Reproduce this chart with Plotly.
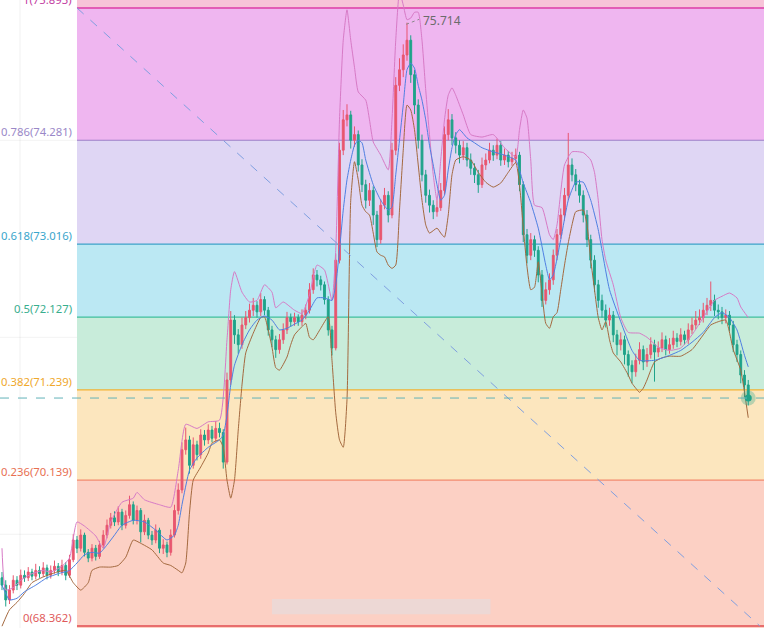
import plotly.graph_objects as go

# ---------------- data ----------------
fib_ratios = [1, 0.786, 0.618, 0.5, 0.382, 0.236, 0]
fib_prices = [75.893, 74.281, 73.016, 72.127, 71.239, 70.139, 68.362]

opens = [
68.95, 68.86, 68.68, 68.80, 68.92, 68.86, 68.98, 68.95, 69.02, 68.97,
69.04, 69.00, 69.07, 68.98, 69.04, 69.09, 69.02, 69.10, 68.98, 69.17,
69.41, 69.31, 69.47, 69.26, 69.19, 69.31, 69.21, 69.35, 69.47, 69.59,
69.68, 69.63, 69.75, 69.59, 69.71, 69.84, 69.65, 69.77, 69.51, 69.65,
69.47, 69.41, 69.53, 69.31, 69.35, 69.26, 69.47, 69.77, 70.02, 70.51,
70.63, 70.32, 70.57, 70.45, 70.69, 70.63, 70.75, 70.65, 70.77, 70.72,
70.36, 71.36, 72.09, 71.91, 71.79, 72.03, 72.12, 72.21, 72.27, 72.19,
72.34, 72.21, 71.97, 71.85, 71.73, 71.85, 71.97, 72.12, 72.07, 72.12,
72.07, 72.15, 72.21, 72.46, 72.64, 72.58, 72.52, 72.34, 71.97, 71.75,
72.82, 74.16, 74.53, 74.59, 74.28, 74.35, 73.98, 73.74, 73.55, 73.67,
73.37, 73.07, 73.49, 73.61, 73.37, 74.16, 74.95, 75.14, 75.32, 75.50,
75.08, 74.71, 74.28, 73.86, 73.61, 73.49, 73.41, 73.46, 73.67, 74.35,
74.53, 74.31, 74.22, 74.10, 74.19, 74.04, 73.94, 73.86, 73.74, 73.98,
74.04, 74.16, 74.10, 74.22, 74.04, 74.10, 74.02, 74.06, 74.10, 73.74,
73.13, 72.88, 73.07, 72.94, 72.64, 72.33, 72.46, 72.58, 72.88, 73.13,
73.37, 73.61, 73.98, 73.86, 73.74, 73.61, 73.37, 73.07, 72.82, 72.52,
72.33, 72.21, 72.09, 72.15, 71.91, 71.79, 71.85, 71.67, 71.54, 71.46,
71.60, 71.73, 71.58, 71.67, 71.79, 71.70, 71.75, 71.85, 71.73, 71.79,
71.87, 71.83, 71.91, 71.85, 71.97, 72.03, 72.09, 72.12, 72.21, 72.27,
72.33, 72.21, 72.19, 72.12, 72.15, 72.03, 71.79, 71.67, 71.42, 71.30,
]
closes = [
68.86, 68.68, 68.80, 68.92, 68.86, 68.98, 68.95, 69.02, 68.97, 69.04,
69.00, 69.07, 68.98, 69.04, 69.09, 69.02, 69.10, 68.98, 69.17, 69.41,
69.31, 69.47, 69.26, 69.19, 69.31, 69.21, 69.35, 69.47, 69.59, 69.68,
69.63, 69.75, 69.59, 69.71, 69.84, 69.65, 69.77, 69.51, 69.65, 69.47,
69.41, 69.53, 69.31, 69.35, 69.26, 69.47, 69.77, 70.02, 70.51, 70.63,
70.32, 70.57, 70.45, 70.69, 70.63, 70.75, 70.65, 70.77, 70.72, 70.36,
71.36, 72.09, 71.91, 71.79, 72.03, 72.12, 72.21, 72.27, 72.19, 72.34,
72.21, 71.97, 71.85, 71.73, 71.85, 71.97, 72.12, 72.07, 72.12, 72.07,
72.15, 72.21, 72.46, 72.64, 72.58, 72.52, 72.34, 71.97, 71.75, 72.82,
74.16, 74.53, 74.59, 74.28, 74.35, 73.98, 73.74, 73.55, 73.67, 73.37,
73.07, 73.49, 73.61, 73.37, 74.16, 74.95, 75.14, 75.32, 75.50, 75.08,
74.71, 74.28, 73.86, 73.61, 73.49, 73.41, 73.46, 73.67, 74.35, 74.53,
74.31, 74.22, 74.10, 74.19, 74.04, 73.94, 73.86, 73.74, 73.98, 74.04,
74.16, 74.10, 74.22, 74.04, 74.10, 74.02, 74.06, 74.10, 73.74, 73.13,
72.88, 73.07, 72.94, 72.64, 72.33, 72.46, 72.58, 72.88, 73.13, 73.37,
73.61, 73.98, 73.86, 73.74, 73.61, 73.37, 73.07, 72.82, 72.52, 72.33,
72.21, 72.09, 72.15, 71.91, 71.79, 71.85, 71.67, 71.54, 71.46, 71.60,
71.73, 71.58, 71.67, 71.79, 71.70, 71.75, 71.85, 71.73, 71.79, 71.87,
71.83, 71.91, 71.85, 71.97, 72.03, 72.09, 72.12, 72.21, 72.27, 72.33,
72.21, 72.19, 72.12, 72.15, 72.03, 71.79, 71.67, 71.42, 71.30, 71.14,
]
highs = [
69.02, 68.92, 68.86, 68.98, 68.97, 69.05, 69.04, 69.08, 69.06, 69.12,
69.09, 69.14, 69.11, 69.10, 69.16, 69.13, 69.17, 69.14, 69.23, 69.48,
69.46, 69.54, 69.50, 69.30, 69.36, 69.35, 69.40, 69.53, 69.66, 69.74,
69.76, 69.82, 69.79, 69.77, 69.95, 69.88, 69.83, 69.80, 69.72, 69.68,
69.52, 69.60, 69.56, 69.42, 69.39, 69.54, 69.84, 70.10, 70.60, 70.78,
70.68, 70.66, 70.62, 70.76, 70.75, 70.82, 70.80, 70.86, 70.84, 70.76,
71.45, 72.20, 72.15, 71.98, 72.12, 72.20, 72.29, 72.36, 72.32, 72.42,
72.38, 72.25, 72.02, 71.90, 71.92, 72.05, 72.19, 72.17, 72.18, 72.16,
72.22, 72.28, 72.54, 72.72, 72.70, 72.63, 72.56, 72.38, 72.02, 72.90,
74.25, 74.65, 74.72, 74.64, 74.45, 74.40, 74.05, 73.80, 73.76, 73.72,
73.42, 73.56, 73.70, 73.66, 74.25, 75.05, 75.28, 75.45, 75.714, 75.56,
75.14, 74.78, 74.35, 73.92, 73.68, 73.55, 73.55, 73.76, 74.45, 74.66,
74.60, 74.38, 74.28, 74.27, 74.25, 74.12, 74.00, 73.92, 74.07, 74.12,
74.25, 74.22, 74.30, 74.27, 74.18, 74.15, 74.14, 74.18, 74.14, 73.78,
73.20, 73.15, 73.12, 72.99, 72.70, 72.55, 72.66, 72.95, 73.20, 73.45,
73.70, 74.37, 74.06, 73.93, 73.80, 73.67, 73.43, 73.13, 72.88, 72.58,
72.40, 72.28, 72.24, 72.20, 71.97, 71.94, 71.90, 71.72, 71.60, 71.68,
71.82, 71.78, 71.75, 71.88, 71.85, 71.83, 71.94, 71.90, 71.87, 71.96,
71.93, 71.99, 71.96, 72.05, 72.12, 72.20, 72.22, 72.30, 72.36, 72.56,
72.40, 72.28, 72.25, 72.22, 72.20, 72.08, 71.85, 71.72, 71.48, 71.36,
]
lows = [
68.80, 68.60, 68.63, 68.76, 68.80, 68.82, 68.90, 68.91, 68.92, 68.93,
68.95, 68.96, 68.93, 68.94, 69.00, 68.97, 68.98, 68.92, 68.95, 69.14,
69.25, 69.27, 69.21, 69.14, 69.15, 69.16, 69.18, 69.31, 69.43, 69.55,
69.58, 69.59, 69.53, 69.55, 69.67, 69.60, 69.60, 69.38, 69.47, 69.42,
69.35, 69.37, 69.25, 69.24, 69.20, 69.22, 69.44, 69.72, 69.98, 70.45,
70.22, 70.28, 70.38, 70.40, 70.56, 70.58, 70.60, 70.61, 70.66, 70.28,
70.33, 71.30, 71.80, 71.68, 71.74, 71.98, 72.06, 72.14, 72.12, 72.14,
72.15, 71.90, 71.76, 71.63, 71.68, 71.80, 71.92, 72.01, 72.02, 72.02,
72.02, 72.10, 72.17, 72.41, 72.50, 72.45, 72.28, 71.90, 71.66, 71.72,
72.78, 74.10, 74.45, 74.18, 74.20, 73.90, 73.65, 73.45, 73.48, 73.25,
72.98, 73.02, 73.44, 73.28, 73.33, 74.10, 74.88, 75.05, 75.25, 74.98,
74.60, 74.18, 73.78, 73.52, 73.40, 73.32, 73.35, 73.42, 73.62, 74.28,
74.22, 74.12, 74.00, 74.04, 73.96, 73.86, 73.76, 73.64, 73.70, 73.92,
74.00, 74.03, 74.05, 73.97, 73.98, 73.95, 73.97, 74.00, 73.66, 73.04,
72.78, 72.82, 72.86, 72.55, 72.25, 72.28, 72.40, 72.52, 72.82, 73.08,
73.30, 73.55, 73.78, 73.66, 73.52, 73.28, 72.98, 72.72, 72.43, 72.24,
72.12, 72.00, 72.02, 71.82, 71.66, 71.72, 71.55, 71.40, 71.32, 71.40,
71.55, 71.48, 71.52, 71.62, 71.34, 71.64, 71.70, 71.66, 71.68, 71.74,
71.76, 71.78, 71.79, 71.80, 71.92, 71.98, 72.03, 72.06, 72.15, 72.20,
72.14, 72.10, 72.04, 72.05, 71.95, 71.70, 71.58, 71.32, 71.15, 71.05,
]

upper_idx = [0, 1, 3, 5, 8, 11, 13, 16, 18, 20, 22, 25, 27, 29, 32, 35, 36, 38, 42, 45,
             47, 49, 52, 55, 58, 60, 61, 62, 64, 66, 68, 70, 72, 73, 75, 78, 80, 82, 84, 86,
             88, 89, 90, 91, 92, 93, 94, 95, 97, 98, 99, 101, 103, 104, 105, 106, 107, 108, 109, 110,
             111, 112, 113, 114, 115, 116, 117, 118, 119, 120, 121, 123, 125, 128, 131, 134, 137, 138, 139, 140,
             141, 142, 144, 146, 147, 148, 150, 152, 155, 157, 158, 159, 160, 161, 163, 165, 167, 170, 172, 175,
             178, 181, 184, 187, 190, 192, 194, 196, 197, 199]
upper_val = [69.31, 68.80, 68.83, 68.92, 69.00, 69.04, 69.02, 69.09, 69.19, 69.63, 69.58, 69.46, 69.31, 69.63, 69.87, 69.92, 69.99, 69.90, 69.84, 69.81,
             70.26, 70.82, 70.77, 70.85, 70.87, 71.85, 72.46, 72.68, 72.43, 72.31, 72.33, 72.52, 72.43, 72.24, 72.31, 72.21, 72.17, 72.40, 72.76, 72.70,
             72.33, 72.94, 74.53, 75.50, 75.87, 75.50, 75.17, 74.87, 74.77, 74.53, 74.26, 74.10, 73.92, 74.53, 75.50, 76.09, 75.93, 75.75, 75.77, 75.84,
             75.84, 75.50, 74.89, 74.35, 73.86, 73.55, 74.04, 74.53, 74.83, 74.92, 74.83, 74.59, 74.35, 74.32, 74.35, 74.19, 74.08, 74.41, 74.65, 74.55,
             74.04, 73.49, 73.46, 73.13, 73.07, 73.25, 73.98, 74.14, 74.13, 74.04, 73.89, 73.55, 73.07, 72.82, 72.52, 72.12, 71.94, 71.93, 71.88, 71.76,
             71.72, 71.75, 71.91, 72.12, 72.33, 72.38, 72.42, 72.36, 72.25, 72.12]

lower_idx = [0, 2, 4, 6, 8, 11, 14, 17, 19, 21, 23, 24, 26, 29, 31, 33, 35, 37, 40, 43,
             45, 47, 48, 49, 50, 51, 53, 55, 56, 58, 59, 60, 61, 62, 63, 64, 65, 67, 69, 70,
             71, 72, 73, 74, 76, 77, 78, 80, 81, 82, 83, 85, 87, 88, 89, 90, 91, 92, 93, 94,
             95, 96, 97, 98, 99, 100, 101, 102, 103, 104, 105, 106, 107, 108, 109, 110, 111, 112, 113, 114,
             116, 117, 118, 119, 120, 121, 123, 125, 127, 129, 131, 133, 135, 137, 138, 139, 140, 141, 142, 143,
             144, 145, 146, 147, 148, 149, 150, 151, 152, 153, 155, 156, 157, 158, 159, 160, 161, 162, 163, 165,
             167, 168, 169, 170, 171, 172, 173, 174, 176, 178, 181, 184, 187, 189, 191, 193, 195, 197, 198, 199]
lower_val = [68.36, 68.56, 68.65, 68.76, 68.89, 68.96, 69.01, 69.04, 68.89, 68.80, 68.89, 69.04, 69.08, 69.08, 69.10, 69.20, 69.41, 69.37, 69.29, 69.13,
             69.10, 69.04, 69.01, 69.13, 69.74, 70.14, 70.30, 70.47, 70.59, 70.63, 70.54, 70.14, 69.92, 70.14, 70.75, 71.30, 71.69, 71.93, 72.12, 72.13,
             71.97, 71.76, 71.51, 71.48, 71.64, 71.79, 71.91, 72.01, 72.05, 71.88, 71.85, 71.99, 72.13, 71.60, 70.96, 70.63, 70.54, 71.12, 73.55, 74.02,
             73.80, 73.49, 73.41, 73.37, 73.15, 72.92, 72.88, 72.86, 72.76, 72.72, 72.76, 73.43, 74.16, 74.71, 74.65, 74.41, 73.98, 73.55, 73.25, 73.15,
             73.21, 73.15, 73.10, 73.37, 73.86, 74.04, 74.08, 74.04, 73.89, 73.77, 73.71, 73.76, 73.89, 74.01, 73.74, 73.22, 72.74, 72.46, 72.49, 72.80,
             72.42, 72.05, 71.99, 72.13, 72.18, 72.46, 72.76, 73.03, 73.25, 73.41, 73.43, 73.25, 72.82, 72.46, 72.12, 71.97, 72.07, 71.85, 71.69, 71.58,
             71.42, 71.32, 71.26, 71.21, 71.26, 71.36, 71.48, 71.58, 71.63, 71.65, 71.65, 71.73, 71.91, 72.03, 72.07, 72.09, 71.73, 71.48, 71.21, 70.90]

mid_idx = [0, 2, 4, 6, 9, 12, 15, 18, 20, 22, 24, 26, 28, 30, 32, 35, 38, 41, 44, 46,
           47, 48, 50, 52, 55, 58, 59, 60, 61, 62, 64, 66, 68, 70, 72, 74, 76, 78, 80, 82,
           84, 86, 88, 89, 90, 91, 92, 93, 94, 95, 96, 97, 99, 101, 103, 104, 105, 106, 107, 108,
           109, 110, 111, 112, 113, 114, 115, 116, 117, 118, 119, 120, 121, 122, 124, 126, 128, 131, 134, 137,
           138, 139, 141, 143, 145, 146, 147, 149, 151, 153, 155, 157, 159, 160, 162, 165, 168, 170, 174, 178,
           181, 184, 187, 190, 192, 194, 196, 198, 199]
mid_val = [68.86, 68.68, 68.70, 68.78, 68.86, 68.95, 69.00, 69.04, 69.13, 69.23, 69.26, 69.25, 69.35, 69.47, 69.59, 69.65, 69.63, 69.53, 69.41, 69.47,
           69.59, 69.84, 70.26, 70.41, 70.54, 70.63, 70.69, 70.93, 71.30, 71.54, 71.79, 71.97, 72.09, 72.14, 72.09, 71.97, 71.99, 72.04, 72.09, 72.21,
           72.36, 72.36, 72.33, 72.52, 72.94, 73.43, 73.80, 74.04, 74.22, 74.28, 74.25, 74.04, 73.74, 73.55, 73.43, 73.47, 73.86, 74.28, 74.71, 75.14,
           75.22, 75.16, 74.95, 74.77, 74.53, 74.22, 73.98, 73.74, 73.55, 73.61, 73.92, 74.19, 74.35, 74.41, 74.31, 74.25, 74.19, 74.14, 74.10, 74.04,
           73.92, 73.76, 73.52, 73.21, 72.76, 72.58, 72.64, 73.07, 73.55, 73.77, 73.77, 73.55, 73.19, 72.94, 72.46, 72.07, 71.72, 71.60, 71.60, 71.66,
           71.72, 71.82, 71.94, 72.12, 72.18, 72.12, 71.97, 71.66, 71.52]

last_price = 71.14
peak_label = "75.714"
peak_idx = 108
peak_price = 75.714

# ---------------- styles ----------------
zone_colors = ["#efb6f0", "#dfd6f4", "#bbe8f3", "#c8ecda", "#fce6be", "#fcd0c4"]
above_color = "#f7c4d8"
below_color = "#fcd0c4"
line_colors = ["#e25db6", "#9c7cc8", "#3ea2c8", "#3fbf9d", "#f3b232", "#f2886c", "#e86d6d"]
label_colors = ["#c23da2", "#9a88c8", "#3aa6cc", "#38ae8e", "#efa82c", "#e86f52", "#e05a5a"]
UP, DOWN = "#e8566f", "#1fa38a"
LABEL_FONT = "Noto Sans"

X0, X1 = -0.53, 203.2
Y0, Y1 = 68.338, 75.99
fib_start = 20

fig = go.Figure()

shapes = []
# fib zones
shapes.append(dict(type="rect", xref="x", yref="y", x0=fib_start, x1=X1 + 5, y0=fib_prices[0], y1=Y1 + 1,
                   fillcolor=above_color, line_width=0, layer="below"))
for k in range(len(fib_prices) - 1):
    shapes.append(dict(type="rect", xref="x", yref="y", x0=fib_start, x1=X1 + 5,
                       y0=fib_prices[k + 1], y1=fib_prices[k],
                       fillcolor=zone_colors[k], line_width=0, layer="below"))
shapes.append(dict(type="rect", xref="x", yref="y", x0=fib_start, x1=X1 + 5, y0=Y0 - 1, y1=fib_prices[-1],
                   fillcolor=below_color, line_width=0, layer="below"))
# faint grid
for gx in [4.8, 110.9, 164.8]:
    shapes.append(dict(type="line", xref="x", yref="paper", x0=gx, x1=gx, y0=0, y1=1,
                       line=dict(color="rgba(0,0,0,0.06)", width=1), layer="below"))
shapes.append(dict(type="line", xref="x", yref="paper", x0=27.2, x1=27.2, y0=0, y1=1,
                   line=dict(color="rgba(90,90,90,0.35)", width=1), layer="below"))
for gy in [74.28, 71.88, 69.48]:
    shapes.append(dict(type="line", xref="paper", yref="y", x0=0, x1=1, y0=gy, y1=gy,
                       line=dict(color="rgba(0,0,0,0.05)", width=1), layer="below"))
# fib level lines
for k, p in enumerate(fib_prices):
    shapes.append(dict(type="line", xref="x", yref="y", x0=fib_start, x1=X1 + 5, y0=p, y1=p,
                       line=dict(color=line_colors[k], width=2 if k in (0, 6) else 1.2), layer="below"))
# diagonal trend line of the fib tool
shapes.append(dict(type="line", xref="x", yref="y", x0=fib_start, y0=fib_prices[0], x1=202.1, y1=fib_prices[-1],
                   line=dict(color="#7f9fe0", width=1, dash="dash")))
# last price line
shapes.append(dict(type="line", xref="paper", yref="y", x0=0, x1=1, y0=last_price, y1=last_price,
                   line=dict(color="#63b3b8", width=1, dash="dash")))
# peak leader
shapes.append(dict(type="line", xref="x", yref="y", x0=peak_idx - 0.2, y0=peak_price - 0.02, x1=peak_idx + 3.2, y1=peak_price + 0.04,
                   line=dict(color="#8a8a8a", width=1, dash="dot")))
# blurred watermark
shapes.append(dict(type="rect", xref="paper", yref="paper", x0=0.356, x1=0.642, y0=0.022, y1=0.046,
                   fillcolor="rgba(232,218,218,0.8)", line_width=0))

fig.add_trace(go.Candlestick(
    x=list(range(len(closes))), open=opens, high=highs, low=lows, close=closes,
    increasing=dict(line=dict(color=UP, width=1), fillcolor=UP),
    decreasing=dict(line=dict(color=DOWN, width=1), fillcolor=DOWN),
    whiskerwidth=0, hoverinfo="skip", showlegend=False))

fig.add_trace(go.Scatter(x=upper_idx, y=upper_val, mode="lines",
                         line=dict(color="#d77ac6", width=1, shape="spline", smoothing=0.5),
                         hoverinfo="skip", showlegend=False))
fig.add_trace(go.Scatter(x=lower_idx, y=lower_val, mode="lines",
                         line=dict(color="#a4693f", width=1, shape="spline", smoothing=0.5),
                         hoverinfo="skip", showlegend=False))
fig.add_trace(go.Scatter(x=mid_idx, y=mid_val, mode="lines",
                         line=dict(color="#4f7fe2", width=1, shape="spline", smoothing=0.5),
                         hoverinfo="skip", showlegend=False))

last_i = len(closes) - 1
fig.add_trace(go.Scatter(x=[last_i], y=[closes[-1]], mode="markers",
                         marker=dict(size=15, color="rgba(31,163,138,0.3)"), hoverinfo="skip", showlegend=False))
fig.add_trace(go.Scatter(x=[last_i], y=[closes[-1]], mode="markers",
                         marker=dict(size=7, color="#1fa38a"), hoverinfo="skip", showlegend=False))

annotations = []
for k, (r, p) in enumerate(zip(fib_ratios, fib_prices)):
    annotations.append(dict(x=fib_start, y=p, xref="x", yref="y", text=f"{r:g}({p:.3f})",
                            showarrow=False, xanchor="right", yanchor="bottom", xshift=-3, yshift=-1,
                            font=dict(family=LABEL_FONT, size=11.3, color=label_colors[k])))
annotations.append(dict(x=peak_idx, y=peak_price, xref="x", yref="y", text=peak_label,
                        showarrow=False, xanchor="left", yanchor="middle", xshift=14, yshift=2,
                        font=dict(family=LABEL_FONT, size=12, color="#6b6b6b")))

fig.update_layout(
    width=764, height=628, margin=dict(l=0, r=0, t=0, b=0),
    paper_bgcolor="white", plot_bgcolor="white",
    shapes=shapes, annotations=annotations, showlegend=False,
    xaxis=dict(range=[X0, X1], showgrid=False, zeroline=False, showticklabels=False,
               rangeslider=dict(visible=False), fixedrange=True),
    yaxis=dict(range=[Y0, Y1], showgrid=False, zeroline=False, showticklabels=False, fixedrange=True),
)

fig.write_html("out.html")
